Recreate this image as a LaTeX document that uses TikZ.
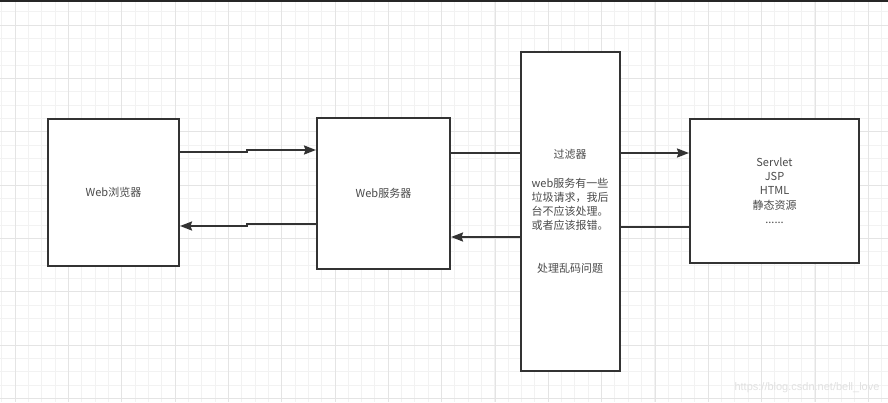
\documentclass[tikz,border=0pt]{standalone}
\usepackage{fontspec}
\newfontfamily\cjk{Noto Sans CJK SC}
\usepackage{tikz}
\usetikzlibrary{arrows.meta,positioning,calc}
\definecolor{linegray}{HTML}{333333}
\definecolor{textgray}{HTML}{4A4A4A}
\definecolor{gridminor}{HTML}{F2F2F2}
\definecolor{gridmajor}{HTML}{E4E4E4}
\tikzstyle{box} = [draw=linegray, line width=2pt, fill=white, text=textgray, align=center, font=\cjk\fontsize{11}{14.3}\selectfont]
\tikzstyle{arrow} = [draw=linegray, line width=2pt, -{Stealth[length=12pt,width=9pt,inset=1.5pt]}]

\begin{document}
\begin{tikzpicture}[x=1pt, y=-1pt]
                \useasboundingbox (0,0) rectangle (888,402);
                % grid
                \foreach \i in {0,...,66} \draw[gridminor, line width=1pt] ({1.67+13.333*\i},0) -- ++(0,402);
                \foreach \j in {0,...,30} \draw[gridminor, line width=1pt] (0,{11.67+13.333*\j}) -- ++(888,0);
                \foreach \i in {0,...,16} \draw[gridmajor, line width=1pt] ({15+53.333*\i},0) -- ++(0,402);
                \foreach \j in {0,...,7} \draw[gridmajor, line width=1pt] (0,{25+53.333*\j}) -- ++(888,0);
                \draw[black!85, line width=2pt] (0,0.5) -- (888,0.5);
                % boxes
                \node[box, minimum width=131pt, minimum height=147pt] (browser) at (113.5,192.5) {Web浏览器};
                \node[box, minimum width=133pt, minimum height=151pt] (server) at (383.5,193.5) {Web服务器};
                \node[box, minimum width=169pt, minimum height=144pt] (servlet) at (774.5,190.5) {Servlet\\JSP\\HTML\\静态资源\\......};
                % connectors
                \draw[arrow] (browser.east |- 0,152) -- (247,152) -- (247,150) -- (server.west |- 0,150);
                \draw[arrow] (server.west |- 0,224) -- (247,224) -- (247,226) -- (browser.east |- 0,226);
                \draw[arrow] (server.east |- 0,153) -- (servlet.west |- 0,153);
                \draw[arrow] (servlet.west |- 0,227) -- (570,227) -- (570,237) -- (server.east |- 0,237);
                % filter on top of the connectors
                \node[box, minimum width=99pt, minimum height=319pt] (filter) at (570,211.5) {过滤器\\[14.3pt]web服务有一些\\垃圾请求，我后\\台不应该处理。\\或者应该报错。\\[28.6pt]处理乱码问题};
                \node[anchor=east, text=black!12, font=\fontspec{Liberation Sans}\fontsize{11}{13}\selectfont] (mark) at (883,388) {https://blog.csdn.net/bell\_love};
            \end{tikzpicture}
\end{document}
